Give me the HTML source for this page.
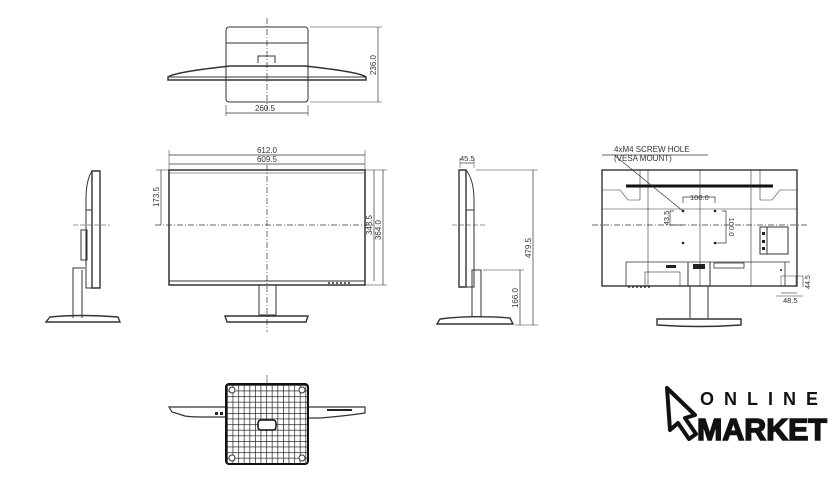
<!DOCTYPE html>
<html><head><meta charset="utf-8"><style>
html,body{margin:0;padding:0;background:#fff;width:840px;height:490px;overflow:hidden}
svg{display:block}
text{font-family:"Liberation Sans",sans-serif;fill:#333}
</style></head><body>
<svg width="840" height="490" viewBox="0 0 840 490" xmlns="http://www.w3.org/2000/svg">
<defs>
<pattern id="grid" width="5.6" height="5.6" patternUnits="userSpaceOnUse" x="227" y="385">
<path d="M0 0H5.6M0 0V5.6" stroke="#222" stroke-width="1.4" fill="none"/>
</pattern>
</defs>
<g fill="none" stroke="#333" stroke-width="1">
<!-- TOP VIEW -->
<rect x="226" y="27" width="82" height="75" rx="3"/>
<line x1="226" y1="43" x2="308" y2="43"/>
<path d="M258 63 V56 H275 V63"/>
<path d="M168 77 Q175 72 230 66 H305 Q360 72 366 77 V80 H168 Z" stroke-width="1.5"/>
<line x1="168" y1="77" x2="366" y2="77"/>
<line x1="267" y1="18" x2="267" y2="110" stroke-dasharray="6 2 1 2" stroke-width="0.7"/>
<line x1="226" y1="105" x2="226" y2="116" stroke-width="0.6"/>
<line x1="308" y1="105" x2="308" y2="116" stroke-width="0.6"/>
<line x1="226" y1="113" x2="308" y2="113" stroke-width="0.7"/>
<line x1="310" y1="27" x2="382" y2="27" stroke-width="0.6"/>
<line x1="310" y1="102" x2="382" y2="102" stroke-width="0.6"/>
<line x1="378" y1="27" x2="378" y2="102" stroke-width="0.7"/>

<!-- FRONT VIEW -->
<rect x="169" y="170" width="196" height="115" stroke-width="1.5"/>
<line x1="169" y1="281" x2="365" y2="281"/>
<line x1="169" y1="173" x2="365" y2="173" stroke-width="0.5"/>
<line x1="267" y1="165" x2="267" y2="332" stroke-dasharray="6 2 1 2" stroke-width="0.7"/>
<line x1="155" y1="225" x2="375" y2="225" stroke-dasharray="6 2 1 2" stroke-width="0.7"/>
<rect x="259" y="285" width="17" height="30"/>
<path d="M225 316 H308 L306 322 H227 Z" stroke-width="1.4"/>
<line x1="169" y1="150" x2="169" y2="170" stroke-width="0.5"/>
<line x1="365" y1="150" x2="365" y2="170" stroke-width="0.5"/>
<line x1="169" y1="155" x2="365" y2="155" stroke-width="0.7"/>
<line x1="169" y1="164" x2="365" y2="164" stroke-width="0.7"/>
<line x1="156" y1="170" x2="169" y2="170" stroke-width="0.5"/>
<line x1="161" y1="170" x2="161" y2="225" stroke-width="0.7"/>
<line x1="365" y1="170" x2="387" y2="170" stroke-width="0.5"/>
<line x1="365" y1="285" x2="387" y2="285" stroke-width="0.5"/>
<line x1="374" y1="170" x2="374" y2="281" stroke-width="0.7"/>
<line x1="383" y1="170" x2="383" y2="285" stroke-width="0.7"/>
<line x1="328" y1="283" x2="352" y2="283" stroke-dasharray="2 2" stroke-width="1.5"/>

<!-- LEFT SIDE VIEW -->
<path d="M92 171 H100 V288 H92 Z" stroke-width="1.4"/>
<path d="M92 171 Q86 180 86 200 V288 H92" />
<line x1="86" y1="210" x2="92" y2="210"/>
<rect x="81" y="230" width="6" height="30"/>
<line x1="73" y1="225" x2="110" y2="225" stroke-dasharray="5 2" stroke-width="0.6"/>
<path d="M73 318 V268 H85 M82 270 V318"/>
<path d="M46 322 L50 317 Q80 314 118 317 L120 322 Z" stroke-width="1.4"/>

<!-- RIGHT SIDE VIEW -->
<path d="M459 170 H466 V287 H459 Z" stroke-width="1.4"/>
<path d="M466 170 Q474 180 474 200 V287 H466"/>
<line x1="466" y1="210" x2="474" y2="210"/>
<line x1="452" y1="225" x2="487" y2="225" stroke-dasharray="5 2" stroke-width="0.6"/>
<path d="M472 317 V270 H481 V317"/>
<path d="M437 324 L440 319 Q470 315 510 318 L513 324 Z" stroke-width="1.4"/>
<line x1="460" y1="158" x2="460" y2="168" stroke-width="0.5"/>
<line x1="474" y1="158" x2="474" y2="168" stroke-width="0.5"/>
<line x1="460" y1="163" x2="474" y2="163" stroke-width="0.7"/>
<line x1="476" y1="170" x2="538" y2="170" stroke-width="0.5"/>
<line x1="483" y1="270" x2="524" y2="270" stroke-width="0.5"/>
<line x1="515" y1="325" x2="538" y2="325" stroke-width="0.5"/>
<line x1="533" y1="170" x2="533" y2="325" stroke-width="0.7"/>
<line x1="520" y1="270" x2="520" y2="325" stroke-width="0.7"/>

<!-- BACK VIEW -->
<rect x="602" y="170" width="195" height="116" stroke-width="1.4"/>
<path d="M602 190 H620 L628 200 H640 V170 M797 190 H780 L772 200 H760 V170" stroke-width="0.6"/>
<line x1="626" y1="186" x2="773" y2="186" stroke="#111" stroke-width="3"/>
<line x1="648" y1="170" x2="648" y2="286" stroke-width="0.6"/>
<line x1="700" y1="170" x2="700" y2="286" stroke-width="0.6"/>
<line x1="751" y1="170" x2="751" y2="286" stroke-width="0.6"/>
<line x1="602" y1="209" x2="797" y2="209" stroke-width="0.6"/>
<line x1="592" y1="225" x2="808" y2="225" stroke-dasharray="6 2 1 2" stroke-width="0.7"/>
<path d="M683 203 V197 H715 V203" stroke-width="0.7"/>
<path d="M674 211 H670 V225 H683" stroke-width="0.7"/>
<path d="M722 211 H726 V243 H715" stroke-width="0.7"/>
<rect x="760" y="227" width="28" height="27"/>
<line x1="767" y1="227" x2="767" y2="254"/>
<path d="M626 262 H790 M626 262 V286 M785 262 V286" stroke-width="0.8"/>
<rect x="645" y="272" width="35" height="14" stroke-width="0.6"/>
<path d="M690 318 V286 H708 V318"/>
<path d="M688 262 V286 M710 262 V286"/>
<rect x="714" y="263" width="30" height="5" stroke-width="0.8"/>
<path d="M657 325 V319 H741 V325 Q700 328 657 325 Z" stroke-width="1.4"/>
<path d="M781 276 V287 M781 276 H803 M776 296 H803 M796 276 V287" stroke-width="0.5"/>
<line x1="803" y1="276" x2="803" y2="287" stroke-width="0.6"/>
<line x1="781" y1="293" x2="797" y2="293" stroke-width="0.6"/>
<line x1="602" y1="155" x2="708" y2="155" stroke-width="0.7"/>
<line x1="614" y1="155" x2="683" y2="211" stroke-width="0.7"/>
<line x1="628" y1="287" x2="650" y2="287" stroke-dasharray="2 2" stroke-width="1.5"/>

<!-- BOTTOM VIEW -->
<path d="M169 407 H226 V417 H206 Q190 417 185 416 L172 412 Z" stroke-width="1.2"/>
<path d="M308 407 H365 V413 Q345 416 320 418 H308 Z" stroke-width="1.2"/>
<line x1="327" y1="410" x2="352" y2="410" stroke="#222" stroke-width="2"/>
<rect x="226" y="384" width="82" height="80" rx="3" fill="url(#grid)" stroke="#111" stroke-width="2"/>
<circle cx="232" cy="390" r="3" fill="#fff"/><circle cx="302" cy="390" r="3" fill="#fff"/>
<circle cx="232" cy="458" r="3" fill="#fff"/><circle cx="302" cy="458" r="3" fill="#fff"/>
<rect x="258" y="420" width="18" height="10" rx="3" fill="#fff" stroke="#111" stroke-width="1.5"/>
<line x1="267" y1="375" x2="267" y2="384" stroke-width="0.6"/>
</g>
<g fill="#222">
<circle cx="683" cy="211" r="1.3"/><circle cx="715" cy="211" r="1.3"/>
<circle cx="683" cy="243" r="1.3"/><circle cx="715" cy="243" r="1.3"/>
<circle cx="781" cy="270" r="1"/>
<rect x="762" y="232" width="3" height="3"/><rect x="762" y="240" width="3" height="3"/><rect x="762" y="247" width="3" height="3"/>
<rect x="666" y="265" width="10" height="3"/><rect x="693" y="264" width="12" height="5"/>
<rect x="220" y="412" width="3" height="3"/><rect x="215" y="412" width="3" height="3"/>
</g>
<g font-size="8">
<text x="255" y="111">260.5</text>
<text x="267" y="153" text-anchor="middle">612.0</text>
<text x="267" y="162" text-anchor="middle">609.5</text>
<text x="460" y="161" font-size="7.5">45.5</text>
<text x="614" y="152">4xM4 SCREW HOLE</text>
<text x="614" y="161">(VESA MOUNT)</text>
<text x="690" y="200" font-size="7.5">100.0</text>
<text x="783" y="303" font-size="7.5">48.5</text>
<text transform="translate(376 65) rotate(-90)" text-anchor="middle">236.0</text>
<text transform="translate(159 197) rotate(-90)" text-anchor="middle">173.5</text>
<text transform="translate(372 225) rotate(-90)" text-anchor="middle">343.5</text>
<text transform="translate(381 230) rotate(-90)" text-anchor="middle">364.0</text>
<text transform="translate(531 248) rotate(-90)" text-anchor="middle">479.5</text>
<text transform="translate(518 298) rotate(-90)" text-anchor="middle">166.0</text>
<text transform="translate(669 218) rotate(-90)" text-anchor="middle" font-size="7.5">43.5</text>
<text transform="translate(729 227) rotate(90)" text-anchor="middle" font-size="7.5">100.0</text>
<text transform="translate(810 282) rotate(-90)" text-anchor="middle" font-size="7">44.5</text>
</g>

<!-- LOGO -->
<path d="M667 388 L695 415 L685 418 L696 434 L689 439 L678 423 L670 430 Z" fill="#fff" stroke="#111" stroke-width="4" stroke-linejoin="round"/>
<text x="700" y="405" font-size="18" font-weight="bold" letter-spacing="10" style="fill:#111">ONLINE</text>
<text x="697" y="440" font-size="31" font-weight="bold" style="fill:#111;stroke:#111;stroke-width:1.5" textLength="130" lengthAdjust="spacingAndGlyphs">MARKET</text>
</svg>
</body></html>
